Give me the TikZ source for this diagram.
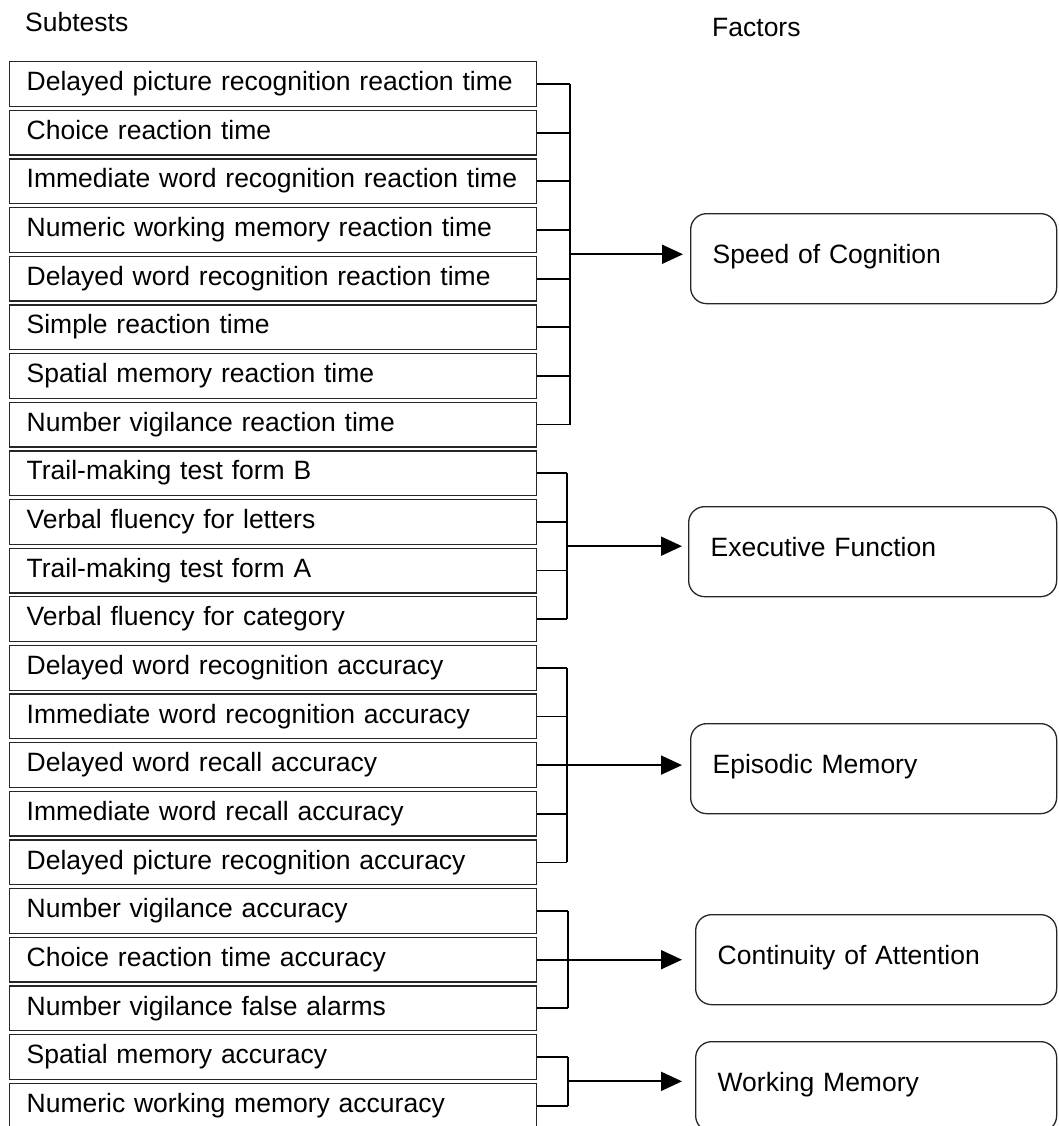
\documentclass[tikz,border=0pt]{standalone}
\usepackage{fontspec}
\setmainfont{Liberation Sans}
\usetikzlibrary{arrows.meta,calc}
\begin{document}
\begin{tikzpicture}[x=1pt,y=-1pt,
  every node/.style={font=\fontsize{26.5}{30}\selectfont, inner sep=0pt},
  subbox/.style={draw=black!85, line width=1.3pt, anchor=north west,
    inner xsep=17pt, inner ysep=0pt, text width=493pt, align=left,
    text height=29pt, text depth=15.7pt},
  facbox/.style={draw=black!85, line width=1.3pt, rounded corners=16pt, anchor=north west,
    inner xsep=22pt, inner ysep=0pt, text width=#1, align=left,
    text height=50pt, text depth=40pt},
  brline/.style={draw=black, line width=1.8pt},
  arrline/.style={draw=black, line width=1.8pt, -{Triangle[length=21pt,width=19pt]}}
]
\useasboundingbox (0,0) rectangle (1058,1126);
\node[anchor=base west] (hsub) at (25,32) {Subtests};
\node[anchor=base west] (hfac) at (712,37) {Factors};
\foreach \t [count=\i from 0] in {
  Delayed picture recognition reaction time,
  Choice reaction time,
  Immediate word recognition reaction time,
  Numeric working memory reaction time,
  Delayed word recognition reaction time,
  Simple reaction time,
  Spatial memory reaction time,
  Number vigilance reaction time,
  Trail-making test form B,
  Verbal fluency for letters,
  Trail-making test form A,
  Verbal fluency for category,
  Delayed word recognition accuracy,
  Immediate word recognition accuracy,
  Delayed word recall accuracy,
  Immediate word recall accuracy,
  Delayed picture recognition accuracy,
  Number vigilance accuracy,
  Choice reaction time accuracy,
  Number vigilance false alarms,
  Spatial memory accuracy,
  Numeric working memory accuracy}
{
  \node[subbox] (s\i) at (9,{61+48.65*\i}) {\t};
}
% factor boxes
\node[facbox=322pt] (f1) at (690,213) {Speed of Cognition};
\node[facbox=324pt] (f2) at (688,506) {Executive Function};
\node[facbox=322pt] (f3) at (690,723) {Episodic Memory};
\node[facbox=317pt] (f4) at (695,914) {Continuity of Attention};
\node[facbox=317pt] (f5) at (695,1041) {Working Memory};
% bracket x positions
\coordinate (bxA) at (570,0);
\coordinate (bxB) at (567,0);
\coordinate (bxC) at (568,0);
% Speed of cognition
\foreach \i in {0,...,7} { \draw[brline] (s\i.east) -- (s\i.east -| bxA); }
\draw[brline] (s0.east -| bxA) -- (s7.east -| bxA);
\coordinate (m1) at ($(s0.east -| bxA)!0.5!(s7.east -| bxA)$);
\draw[arrline, shorten >=7pt] (m1) -- (m1 -| f1.west);
% Executive
\foreach \i in {8,...,11} { \draw[brline] (s\i.east) -- (s\i.east -| bxB); }
\draw[brline] (s8.east -| bxB) -- (s11.east -| bxB);
\coordinate (m2) at ($(s8.east -| bxB)!0.5!(s11.east -| bxB)$);
\draw[arrline, shorten >=6pt] (m2) -- (m2 -| f2.west);
% Episodic
\foreach \i in {12,13,15,16} { \draw[brline] (s\i.east) -- (s\i.east -| bxB); }
\draw[brline] (s12.east -| bxB) -- (s16.east -| bxB);
\draw[arrline, shorten >=8pt] (s14.east) -- (s14.east -| f3.west);
% Continuity
\foreach \i in {17,19} { \draw[brline] (s\i.east) -- (s\i.east -| bxC); }
\draw[brline] (s17.east -| bxC) -- (s19.east -| bxC);
\draw[arrline, shorten >=13pt] (s18.east) -- (s18.east -| f4.west);
% Working
\foreach \i in {20,21} { \draw[brline] (s\i.east) -- (s\i.east -| bxC); }
\draw[brline] (s20.east -| bxC) -- (s21.east -| bxC);
\coordinate (m5) at ($(s20.east -| bxC)!0.5!(s21.east -| bxC)$);
\draw[arrline, shorten >=13pt] (m5) -- (m5 -| f5.west);
\end{tikzpicture}
\end{document}
